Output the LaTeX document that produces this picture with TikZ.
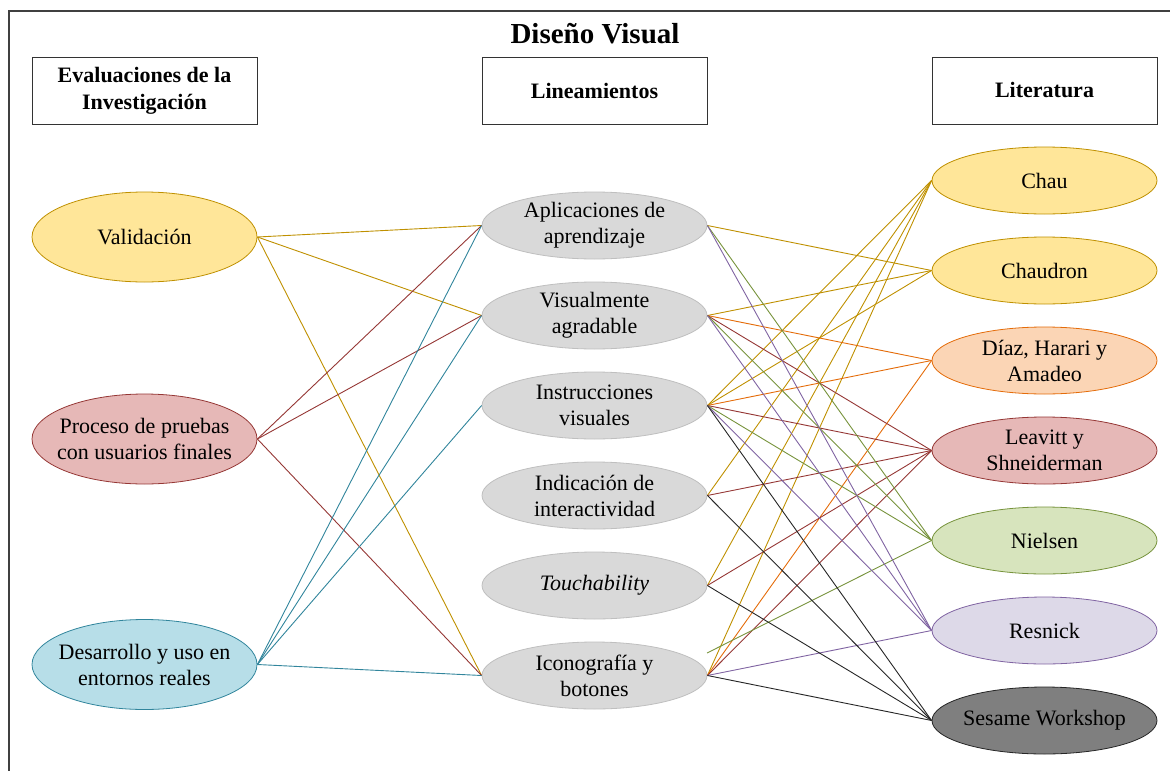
\documentclass[tikz,border=0pt]{standalone}
\usepackage{fontspec}
\setmainfont{Liberation Serif}
\usetikzlibrary{shapes.geometric}

% palette
\definecolor{goldln}{HTML}{BF9000}
\definecolor{goldfill}{HTML}{FFE699}
\definecolor{redln}{HTML}{953735}
\definecolor{redfill}{HTML}{E6B8B7}
\definecolor{tealln}{HTML}{31859C}
\definecolor{tealfill}{HTML}{B7DEE8}
\definecolor{greyfill}{HTML}{D9D9D9}
\definecolor{greyln}{HTML}{BFBFBF}
\definecolor{orangeln}{HTML}{E46C0A}
\definecolor{orangefill}{HTML}{FBD5B5}
\definecolor{greenln}{HTML}{77933C}
\definecolor{greenfill}{HTML}{D7E4BD}
\definecolor{purpleln}{HTML}{8064A2}
\definecolor{purplefill}{HTML}{DDD9E8}
\definecolor{darkfill}{HTML}{7F7F7F}
\definecolor{darkln}{HTML}{262626}

\begin{document}
\begin{tikzpicture}[x=1pt,y=-1pt,
  bodyfont/.style={font=\fontsize{22}{26}\selectfont},
  headbox/.style={draw=black!80, line width=0.9pt, minimum width=225pt,
    minimum height=67pt, inner sep=0pt, align=center,
    font=\fontsize{22}{27}\selectfont\bfseries},
  % negative horizontal padding keeps the ellipse at its fixed size
  oval/.style={ellipse, minimum width=225pt, minimum height=67pt,
    inner xsep=-60pt, inner ysep=-2pt, align=center, line width=0.8pt, bodyfont},
  bigoval/.style={oval, minimum height=90pt},
  link/.style={line width=0.9pt},
  frameline/.style={draw=black!75, line width=1.2pt}
]
\useasboundingbox (0,0) rectangle (1170,771);
\draw[frameline] (9,771) -- (9,11) -- (1170,11);

% title and column headers
\node (title) at (595,34) {\fontsize{29}{34}\selectfont\bfseries Diseño Visual};
\node[headbox] (hEval) at (144.5,90.5) {Evaluaciones de la\\Investigación};
\node[headbox] (hLin)  at (594.5,90.5) {Lineamientos};
\node[headbox] (hLit)  at (1044.5,90.5) {Literatura};

% evaluations
\node[bigoval, draw=goldln, fill=goldfill] (val) at (144.5,237) {Validación};
\node[bigoval, draw=redln, fill=redfill] (prue) at (144.5,439) {Proceso de pruebas\\con usuarios finales};
\node[bigoval, draw=tealln, fill=tealfill] (des) at (144.5,664.5) {Desarrollo y uso en\\entornos reales};

% guidelines
\node[oval, draw=greyln, fill=greyfill] (apl) at (594.5,225.5) {Aplicaciones de\\aprendizaje};
\node[oval, draw=greyln, fill=greyfill] (vis) at (594.5,315.5) {Visualmente\\agradable};
\node[oval, draw=greyln, fill=greyfill] (ins) at (594.5,405.5) {Instrucciones\\visuales};
\node[oval, draw=greyln, fill=greyfill] (ind) at (594.5,495.5) {Indicación de\\interactividad};
\node[oval, draw=greyln, fill=greyfill] (tou) at (594.5,585.5) {\itshape Touchability};
\node[oval, draw=greyln, fill=greyfill] (ico) at (594.5,675.5) {Iconografía y\\botones};

% literature
\node[oval, draw=goldln, fill=goldfill] (chau) at (1044.5,180.5) {Chau};
\node[oval, draw=goldln, fill=goldfill] (chd) at (1044.5,270.5) {Chaudron};
\node[oval, draw=orangeln, fill=orangefill] (diaz) at (1044.5,360.5) {Díaz, Harari y\\Amadeo};
\node[oval, draw=redln, fill=redfill] (lea) at (1044.5,450.5) {Leavitt y\\Shneiderman};
\node[oval, draw=greenln, fill=greenfill] (nie) at (1044.5,540.5) {Nielsen};
\node[oval, draw=purpleln, fill=purplefill] (res) at (1044.5,630.5) {Resnick};
\node[oval, draw=darkln, fill=darkfill] (ses) at (1044.5,720.5) {Sesame Workshop};

\coordinate (icoup) at (707,653);

% evaluations -> guidelines
\draw[link, goldln] (val.east) -- (apl.west);
\draw[link, goldln] (val.east) -- (vis.west);
\draw[link, goldln] (val.east) -- (ico.west);
\draw[link, redln] (prue.east) -- (apl.west);
\draw[link, redln] (prue.east) -- (vis.west);
\draw[link, redln] (prue.east) -- (ico.west);
\draw[link, tealln] (des.east) -- (apl.west);
\draw[link, tealln] (des.east) -- (vis.west);
\draw[link, tealln] (des.east) -- (ins.west);
\draw[link, tealln] (des.east) -- (ico.west);

% guidelines -> literature
\draw[link, goldln] (apl.east) -- (chd.west);
\draw[link, goldln] (vis.east) -- (chd.west);
\draw[link, goldln] (ins.east) -- (chd.west);
\draw[link, goldln] (ins.east) -- (chau.west);
\draw[link, goldln] (ind.east) -- (chau.west);
\draw[link, goldln] (tou.east) -- (chau.west);
\draw[link, goldln] (ico.east) -- (chau.west);

\draw[link, orangeln] (vis.east) -- (diaz.west);
\draw[link, orangeln] (ins.east) -- (diaz.west);
\draw[link, orangeln] (ico.east) -- (diaz.west);

\draw[link, redln] (vis.east) -- (lea.west);
\draw[link, redln] (ins.east) -- (lea.west);
\draw[link, redln] (ind.east) -- (lea.west);
\draw[link, redln] (tou.east) -- (lea.west);
\draw[link, redln] (ico.east) -- (lea.west);

\draw[link, greenln] (apl.east) -- (nie.west);
\draw[link, greenln] (vis.east) -- (nie.west);
\draw[link, greenln] (ins.east) -- (nie.west);
\draw[link, greenln] (icoup) -- (nie.west);

\draw[link, purpleln] (apl.east) -- (res.west);
\draw[link, purpleln] (vis.east) -- (res.west);
\draw[link, purpleln] (ins.east) -- (res.west);
\draw[link, purpleln] (ico.east) -- (res.west);

\draw[link, darkln] (ins.east) -- (ses.west);
\draw[link, darkln] (ind.east) -- (ses.west);
\draw[link, darkln] (tou.east) -- (ses.west);
\draw[link, darkln] (ico.east) -- (ses.west);
\end{tikzpicture}
\end{document}
